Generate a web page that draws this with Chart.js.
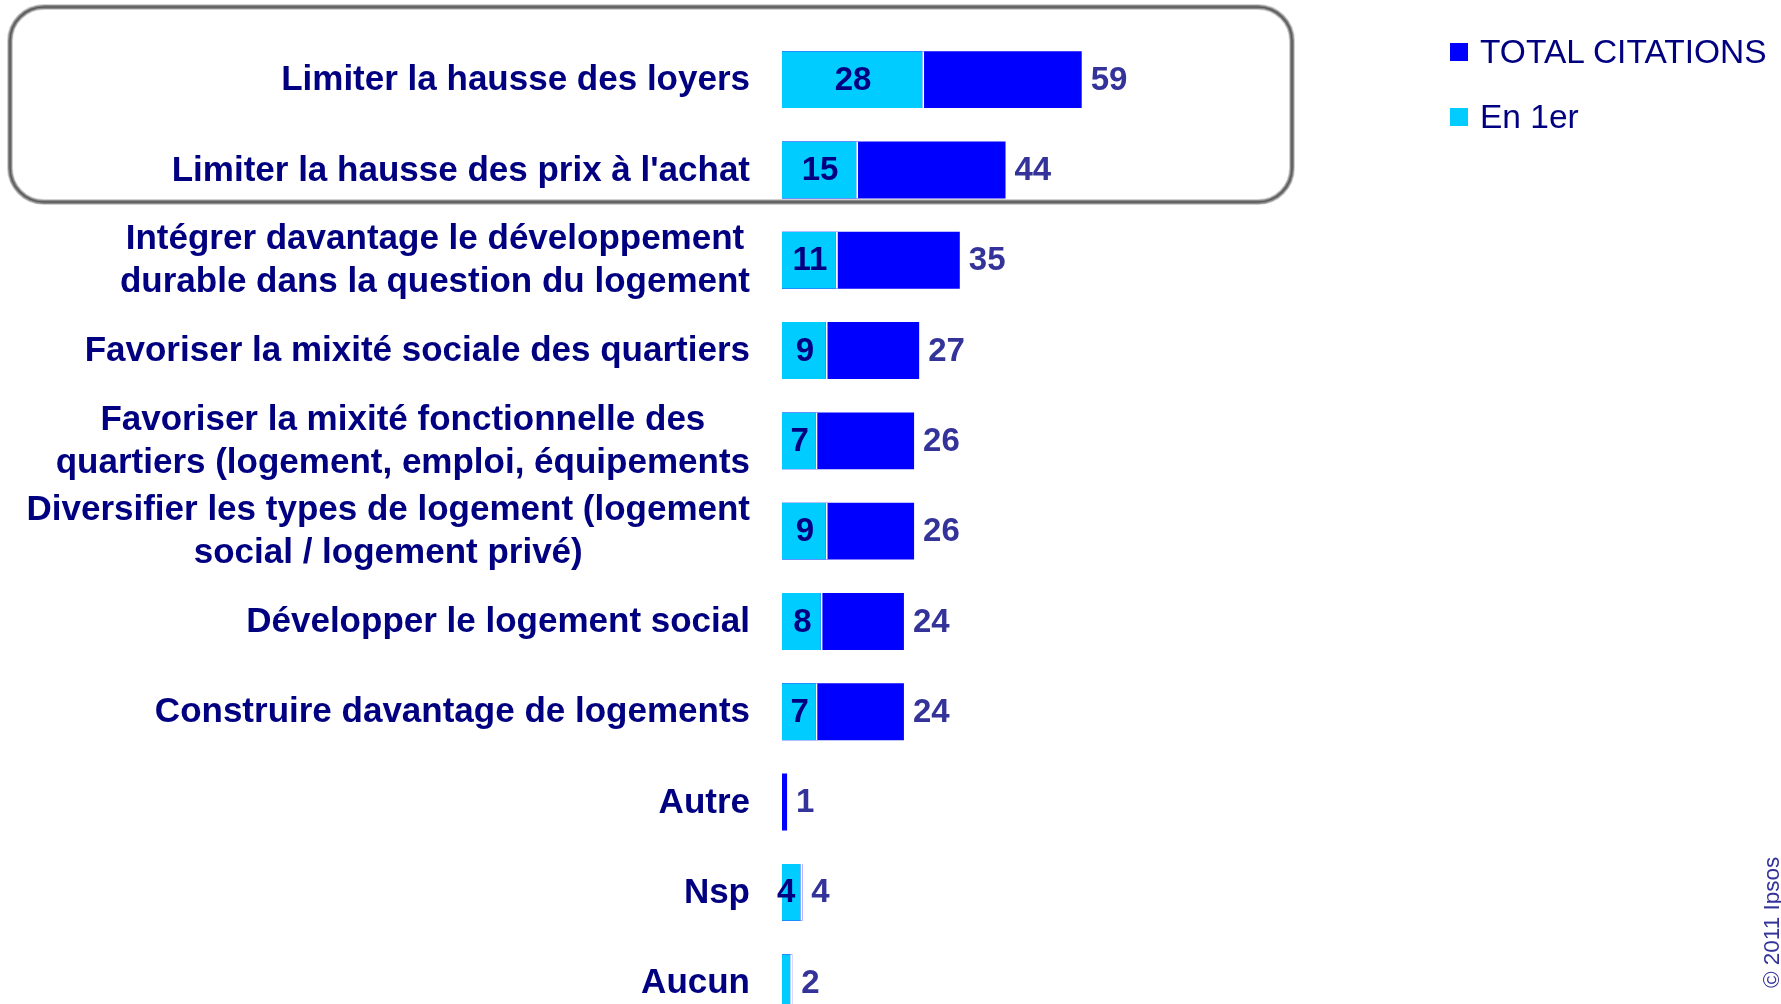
<!DOCTYPE html>
<html>
<head>
<meta charset="utf-8">
<script src="https://cdn.jsdelivr.net/npm/chart.js@4"></script>
<style>
  html, body { margin: 0; padding: 0; width: 1781px; height: 1004px; overflow: hidden; background: #fff; }
  #wrap { position: absolute; left: 0; top: 0; width: 1781px; height: 1030px; }
  .legend { position: absolute; left: 1450px; font-family: "Liberation Sans", Arial, sans-serif; font-size: 33.5px; color: #000080; }
  .legend span.sw { display: inline-block; width: 18px; height: 18px; margin-right: 12px; vertical-align: middle; position: relative; top: -2px; }
  .copy { position: absolute; left: 1759px; top: 988px; transform-origin: 0 0; transform: rotate(-90deg);
          font-family: "Liberation Sans", Arial, sans-serif; font-size: 22.5px; color: #333399; white-space: nowrap; }
</style>
</head>
<body>
<div id="wrap"><canvas id="rankChart"></canvas></div>
<div class="legend" style="top:33px"><span class="sw" style="background:#0000ff"></span>TOTAL CITATIONS</div>
<div class="legend" style="top:98px"><span class="sw" style="background:#00ccff"></span>En 1er</div>
<div class="copy">© 2011 Ipsos</div>
<script>
//categories
let categories = [
    ["Limiter la hausse des loyers"],
    ["Limiter la hausse des prix à l'achat"],
    ["Intégrer davantage le développement", "durable dans la question du logement"],
    ["Favoriser la mixité sociale des quartiers"],
    ["Favoriser la mixité fonctionnelle des", "quartiers (logement, emploi, équipements"],
    ["Diversifier les types de logement (logement", "social / logement privé)"],
    ["Développer le logement social"],
    ["Construire davantage de logements"],
    ["Autre"],
    ["Nsp"],
    ["Aucun"],
];
let totalCitations = [59, 44, 35, 27, 26, 26, 24, 24, 1, 4, 2];
let enPremier = [28, 15, 11, 9, 7, 9, 8, 7, 0, 4, 2];

let labelFont = 'bold 35px "Liberation Sans", Arial, sans-serif';
let valueFont = 'bold 33px "Liberation Sans", Arial, sans-serif';

//frame, row labels and values
let rankPlugin = {
    id: "rankPlugin",
    beforeDraw(chart) {
        let ctx = chart.ctx;
        let x = 10, y = 7, w = 1282, h = 195, r = 34;
        let strokes = [["#d0d0d0", 6], ["#8a8a8a", 4], ["#5a5a5a", 1.5]];
        ctx.save();
        strokes.forEach(function(s) {
            ctx.strokeStyle = s[0];
            ctx.lineWidth = s[1];
            ctx.beginPath();
            ctx.roundRect(x, y, w, h, r);
            ctx.stroke();
        });
        ctx.restore();
    },
    afterDatasetsDraw(chart) {
        let ctx = chart.ctx;
        let yScale = chart.scales.y;
        let firstMeta = chart.getDatasetMeta(0);
        let totalMeta = chart.getDatasetMeta(1);
        ctx.save();
        ctx.textBaseline = "middle";

        categories.forEach(function(lines, i) {
            let yc = yScale.getPixelForValue(i);
            ctx.font = labelFont;
            ctx.fillStyle = "#000080";
            ctx.textAlign = "center";
            let maxW = Math.max.apply(null, lines.map(function(l) { return ctx.measureText(l).width; }));
            let cx = 750 - maxW / 2;
            let lh = 43;
            lines.forEach(function(l, k) {
                ctx.fillText(l, cx, yc + (k - (lines.length - 1) / 2) * lh + 1);
            });

            ctx.font = valueFont;
            let bar = firstMeta.data[i];
            if (enPremier[i] >= 3) {
                ctx.fillStyle = "#000080";
                ctx.textAlign = "center";
                let mid = (bar.x + bar.base) / 2;
                if (bar.x - bar.base < 30) mid -= 6;
                ctx.fillText(enPremier[i], mid, yc + 1);
            }
            let tbar = totalMeta.data[i];
            ctx.fillStyle = "#333399";
            ctx.textAlign = "left";
            ctx.fillText(totalCitations[i], Math.max(tbar.x, bar.x) + 9, yc + 1);
        });
        ctx.restore();
    },
};

let rankCanvas = document.getElementById("rankChart").getContext("2d");
new Chart(rankCanvas, {
    type: "bar",
    data: {
        labels: categories.map(function(c) { return c.join(" "); }),
        datasets: [{
            label: "En 1er",
            data: enPremier,
            backgroundColor: "#00ccff",
            borderColor: "#ffffff",
            borderWidth: { top: 0, right: 2, bottom: 0, left: 0 },
            borderSkipped: false,
            grouped: false,
        }, {
            label: "TOTAL CITATIONS",
            data: totalCitations,
            backgroundColor: "#0000ff",
            borderWidth: 0,
            grouped: false,
        }, ],
    },
    options: {
        indexAxis: "y",
        responsive: true,
        maintainAspectRatio: false,
        animation: false,
        categoryPercentage: 0.7,
        barPercentage: 0.9,
        layout: {
            padding: { top: 34.5, bottom: 2.2, left: 0, right: 491 },
        },
        scales: {
            x: {
                display: false,
                min: 0,
                max: 100,
            },
            y: {
                display: true,
                grid: { display: false },
                border: { display: false },
                ticks: { display: false },
                afterFit: function(scale) {
                    scale.width = 782;
                },
            },
        },
        plugins: {
            legend: { display: false },
            tooltip: { enabled: false },
        },
    },
    plugins: [rankPlugin],
});
</script>
</body>
</html>
